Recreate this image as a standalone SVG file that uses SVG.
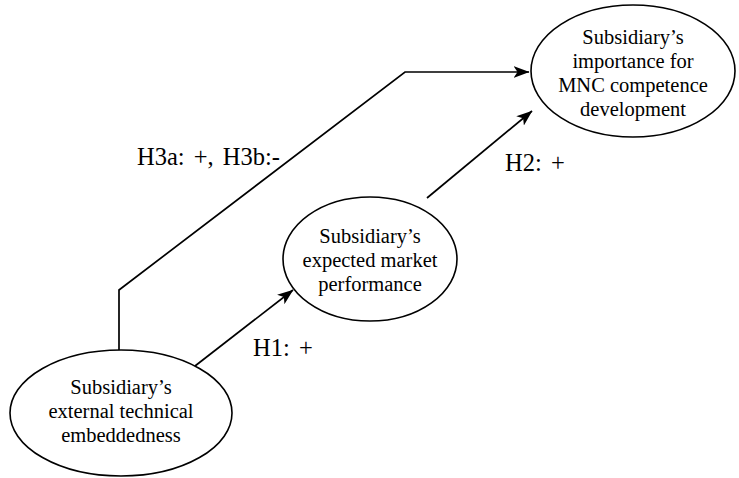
<svg xmlns="http://www.w3.org/2000/svg" width="739" height="478" viewBox="0 0 739 478">
<defs>
<marker id="arr" viewBox="0 0 16 12" refX="15.5" refY="6" markerWidth="16" markerHeight="12" markerUnits="userSpaceOnUse" orient="auto">
<path d="M0,0 L16,6 L0,12 L4,6 Z" fill="#000"/>
</marker>
<style>
.node ellipse{fill:#fff;stroke:#000;stroke-width:1.6}
text{font-family:"Liberation Serif","Times New Roman",serif;font-size:20.5px;fill:#000;text-anchor:middle}
.lbl{text-anchor:start;font-size:24.5px;word-spacing:3px}
.conn path{fill:none;stroke:#000;stroke-width:1.7}
</style>
</defs>
<rect width="739" height="478" fill="#fff"/>
<g class="conn" id="connectors">
<path d="M119,350 L119,290 L405,72 L529,72" marker-end="url(#arr)"/>
<path d="M195,366 L293,290" marker-end="url(#arr)"/>
<path d="M427,198 L532,111" marker-end="url(#arr)"/>
</g>
<g class="node" id="competence">
<ellipse cx="633" cy="71" rx="102" ry="66"/>
<text x="633" y="44">Subsidiary’s</text>
<text x="633" y="68">importance for</text>
<text x="633" y="92">MNC competence</text>
<text x="633" y="116">development</text>
</g>
<g class="node" id="market">
<ellipse cx="370" cy="259" rx="87" ry="62"/>
<text x="370" y="243">Subsidiary’s</text>
<text x="370" y="267">expected market</text>
<text x="370" y="291">performance</text>
</g>
<g class="node" id="embeddedness">
<ellipse cx="121" cy="413" rx="111" ry="63"/>
<text x="121" y="394">Subsidiary’s</text>
<text x="121" y="418">external technical</text>
<text x="121" y="442">embeddedness</text>
</g>
<g id="labels">
<text class="lbl" x="137" y="165">H3a: +, H3b:-</text>
<text class="lbl" x="505" y="171">H2: +</text>
<text class="lbl" x="253" y="356">H1: +</text>
</g>
</svg>
